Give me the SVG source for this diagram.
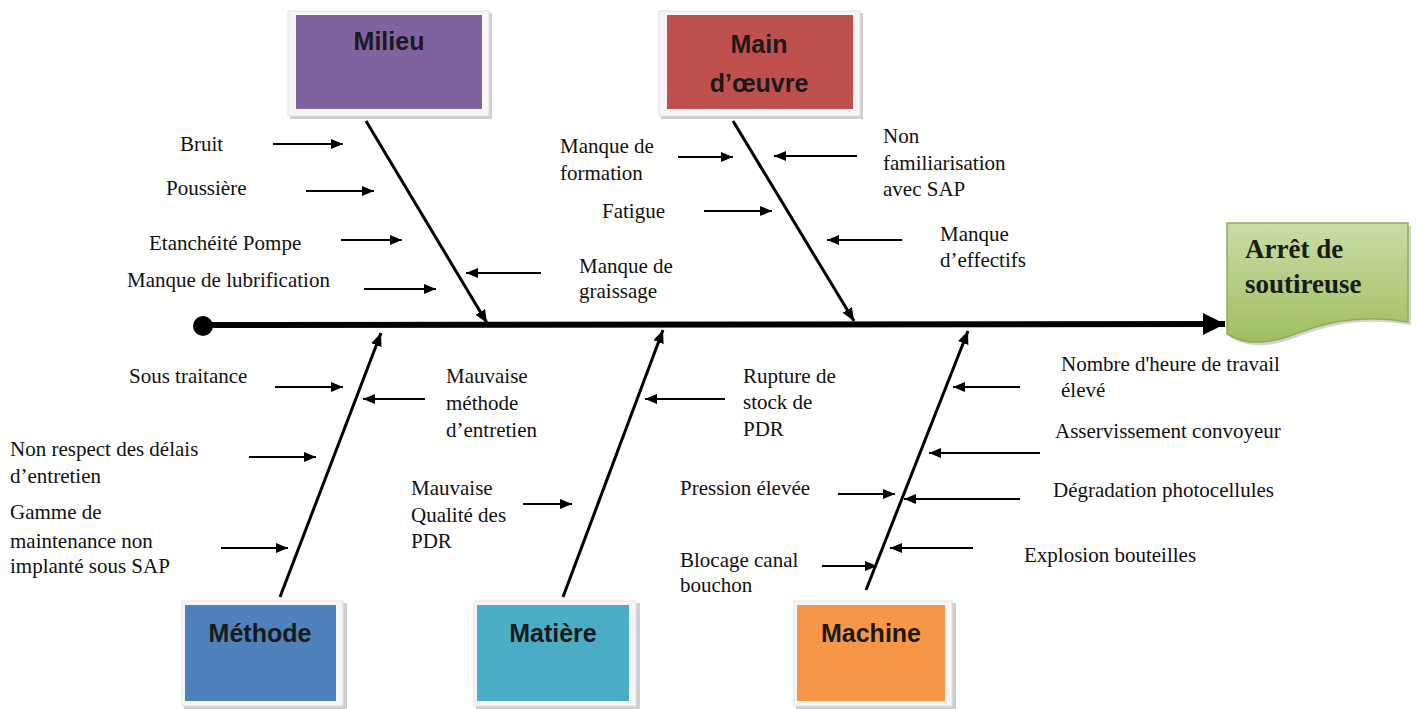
<svg xmlns="http://www.w3.org/2000/svg" width="1418" height="709" viewBox="0 0 1418 709">
<style>
.lbl{font-family:"Liberation Serif","Times New Roman",serif;font-size:21px;fill:#111}
.ttl{font-family:"Liberation Sans",Arial,sans-serif;font-size:25px;font-weight:bold;fill:#1a1a1a;text-anchor:middle}
.res{font-family:"Liberation Serif","Times New Roman",serif;font-size:27px;font-weight:bold;fill:#1a1a1a}
.frame{fill:#f6f6f6;stroke:#e2e2e2;stroke-width:1}
.shadow{fill:#b9b9b9;opacity:0.7}
.bone{stroke:#000;stroke-width:3;fill:none;marker-end:url(#bh)}
.arr{stroke:#000;stroke-width:2;fill:none;marker-end:url(#ah)}
.spine{stroke:#000;stroke-width:6;fill:none;marker-end:url(#sh)}
</style>
<defs>
<marker id="sh" markerUnits="userSpaceOnUse" markerWidth="24" markerHeight="24" refX="22" refY="11" orient="auto"><path d="M0,0 L22,11 L0,22 z" fill="#000"/></marker>
<marker id="bh" markerUnits="userSpaceOnUse" markerWidth="14" markerHeight="12" refX="13" refY="5.5" orient="auto"><path d="M0,0 L13,5.5 L0,11 z" fill="#000"/></marker>
<marker id="ah" markerUnits="userSpaceOnUse" markerWidth="13" markerHeight="11" refX="12" refY="5" orient="auto"><path d="M0,0 L12,5 L0,10 z" fill="#000"/></marker>
<linearGradient id="gg" x1="0" y1="0" x2="0" y2="1"><stop offset="0" stop-color="#c9dda6"/><stop offset="1" stop-color="#9fbe5f"/></linearGradient>
</defs>

<g id="connectors">
<line class="spine" x1="203" y1="325" x2="1225" y2="324"/>
<circle cx="203" cy="326" r="10" fill="#000"/>
<line class="bone" x1="366" y1="121" x2="487" y2="323"/>
<line class="bone" x1="733" y1="121" x2="854" y2="321"/>
<line class="bone" x1="280" y1="597" x2="381" y2="333"/>
<line class="bone" x1="563" y1="597" x2="663" y2="330"/>
<line class="bone" x1="866" y1="590" x2="968" y2="331"/>
<line class="arr" x1="273" y1="144" x2="343" y2="144"/>
<line class="arr" x1="306" y1="191" x2="374" y2="191"/>
<line class="arr" x1="341" y1="240" x2="402" y2="240"/>
<line class="arr" x1="364" y1="289" x2="436" y2="289"/>
<line class="arr" x1="541" y1="273" x2="466" y2="273"/>
<line class="arr" x1="678" y1="157" x2="733" y2="157"/>
<line class="arr" x1="704" y1="211" x2="772" y2="211"/>
<line class="arr" x1="857" y1="156" x2="774" y2="156"/>
<line class="arr" x1="902" y1="240" x2="827" y2="240"/>
<line class="arr" x1="275" y1="387" x2="343" y2="387"/>
<line class="arr" x1="425" y1="399" x2="363" y2="399"/>
<line class="arr" x1="249" y1="457" x2="316" y2="457"/>
<line class="arr" x1="221" y1="548" x2="288" y2="548"/>
<line class="arr" x1="523" y1="504" x2="572" y2="504"/>
<line class="arr" x1="725" y1="399" x2="645" y2="399"/>
<line class="arr" x1="838" y1="494" x2="895" y2="494"/>
<line class="arr" x1="822" y1="566" x2="877" y2="566"/>
<line class="arr" x1="1020" y1="387" x2="953" y2="387"/>
<line class="arr" x1="1040" y1="453" x2="929" y2="453"/>
<line class="arr" x1="1020" y1="499" x2="904" y2="499"/>
<line class="arr" x1="973" y1="548" x2="890" y2="548"/>
</g>

<g id="milieu">
<rect class="shadow" x="290" y="13" width="202" height="106"/>
<rect class="frame" x="288" y="11" width="201" height="105"/>
<rect x="296" y="15" width="186" height="94" fill="#8064a2"/>
<text class="ttl" x="389" y="50">Milieu</text>
</g>
<g id="main-oeuvre">
<rect class="shadow" x="661" y="13" width="202" height="106"/>
<rect class="frame" x="659" y="11" width="201" height="105"/>
<rect x="667" y="15" width="186" height="94" fill="#c0504d"/>
<text class="ttl" x="759" y="53">Main</text>
<text class="ttl" x="759" y="92">d’œuvre</text>
</g>
<g id="methode">
<rect class="shadow" x="184" y="603" width="163" height="106"/>
<rect class="frame" x="182" y="601" width="161" height="105"/>
<rect x="185" y="605" width="151" height="96" fill="#4f81bd"/>
<text class="ttl" x="260" y="642">Méthode</text>
</g>
<g id="matiere">
<rect class="shadow" x="476" y="603" width="164" height="106"/>
<rect class="frame" x="474" y="601" width="162" height="105"/>
<rect x="477" y="605" width="152" height="96" fill="#4bacc6"/>
<text class="ttl" x="553" y="642">Matière</text>
</g>
<g id="machine">
<rect class="shadow" x="796" y="603" width="160" height="106"/>
<rect class="frame" x="794" y="601" width="158" height="105"/>
<rect x="797" y="605" width="148" height="96" fill="#f79646"/>
<text class="ttl" x="871" y="642">Machine</text>
</g>
<g id="arret">
<path d="M1230,226 L1411,226 L1411,325 C1370,318 1335,322 1300,336 C1275,346 1250,350 1230,337 Z" fill="#aaa" opacity="0.5"/>
<path d="M1227,223 L1408,223 L1408,322 C1368,315 1333,319 1298,333 C1273,343 1248,347 1227,334 Z" fill="url(#gg)" stroke="#8db054" stroke-width="1.5"/>
<text class="res" x="1245" y="258">Arrêt de</text>
<text class="res" x="1245" y="293">soutireuse</text>
</g>

<g id="causes">
<text class="lbl" x="180" y="151">Bruit</text>
<text class="lbl" x="166" y="195">Poussière</text>
<text class="lbl" x="149" y="250">Etanchéité Pompe</text>
<text class="lbl" x="127" y="287">Manque de lubrification</text>
<text class="lbl" x="579" y="273">Manque de</text>
<text class="lbl" x="579" y="298">graissage</text>
<text class="lbl" x="560" y="153">Manque de</text>
<text class="lbl" x="560" y="180">formation</text>
<text class="lbl" x="602" y="218">Fatigue</text>
<text class="lbl" x="883" y="143">Non</text>
<text class="lbl" x="883" y="170">familiarisation</text>
<text class="lbl" x="883" y="196">avec SAP</text>
<text class="lbl" x="940" y="241">Manque</text>
<text class="lbl" x="940" y="267">d’effectifs</text>
<text class="lbl" x="129" y="383">Sous traitance</text>
<text class="lbl" x="446" y="383">Mauvaise</text>
<text class="lbl" x="446" y="410">méthode</text>
<text class="lbl" x="446" y="437">d’entretien</text>
<text class="lbl" x="10" y="456">Non respect des délais</text>
<text class="lbl" x="10" y="483">d’entretien</text>
<text class="lbl" x="10" y="519">Gamme de</text>
<text class="lbl" x="10" y="548">maintenance non</text>
<text class="lbl" x="10" y="573">implanté sous SAP</text>
<text class="lbl" x="411" y="495">Mauvaise</text>
<text class="lbl" x="411" y="522">Qualité des</text>
<text class="lbl" x="411" y="548">PDR</text>
<text class="lbl" x="743" y="383">Rupture de</text>
<text class="lbl" x="743" y="409">stock de</text>
<text class="lbl" x="743" y="436">PDR</text>
<text class="lbl" x="680" y="495">Pression élevée</text>
<text class="lbl" x="680" y="567">Blocage canal</text>
<text class="lbl" x="680" y="592">bouchon</text>
<text class="lbl" x="1061" y="371">Nombre d'heure de travail</text>
<text class="lbl" x="1061" y="397">élevé</text>
<text class="lbl" x="1055" y="438">Asservissement convoyeur</text>
<text class="lbl" x="1053" y="497">Dégradation photocellules</text>
<text class="lbl" x="1024" y="562">Explosion bouteilles</text>
</g>
</svg>
